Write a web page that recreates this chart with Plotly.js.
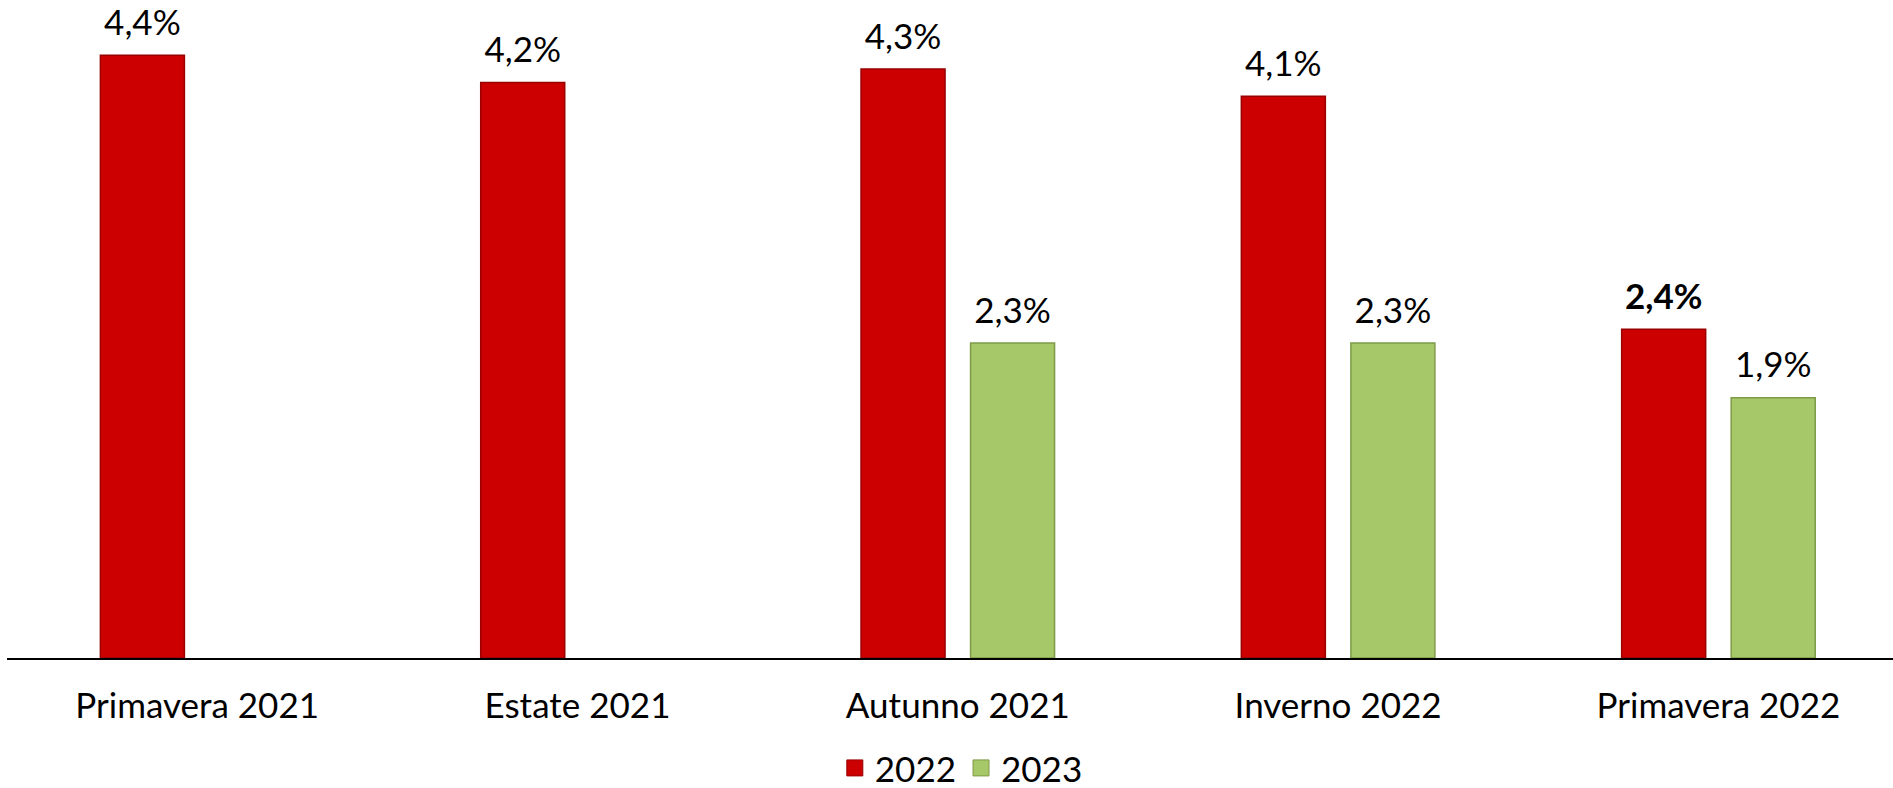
<!DOCTYPE html>
<html>
<head>
<meta charset="utf-8">
<script src="https://cdn.plot.ly/plotly-3.0.1.min.js"></script>
<style>html,body{margin:0;padding:0;background:#fff;}#chart{width:1893px;height:788px;}</style>
</head>
<body>
<div id="chart"></div>
<script>
const categories = ["Primavera 2021", "Estate 2021", "Autunno 2021", "Inverno 2022", "Primavera 2022"];
const seriesNames = ["2022", "2023"];
const values2022 = [4.4, 4.2, 4.3, 4.1, 2.4];
const values2023 = [null, null, 2.3, 2.3, 1.9];
const boldLabel2022 = [false, false, false, false, true];

const colors = ["#CC0000", "#A6C868"];
const lineColors = ["#9A0000", "#7E9A48"];

// symmetric lowered spacers lift the outside label a little above the bar
const SPACER = "<sub><span style='font-size:49px'>\u00a0</span></sub>";
function fmt(v, bold) {
  if (v == null) return "";
  const s = v.toFixed(1).replace(".", ",") + "%";
  return SPACER + (bold ? "<b>" + s + "</b>" : s) + SPACER;
}

const text2022 = values2022.map((v, i) => fmt(v, boldLabel2022[i]));
const text2023 = values2023.map(v => fmt(v, false));

const fontFam = "Lato, 'Open Sans', sans-serif";
const FS = 35;

const traces = [
  {
    type: "bar", name: seriesNames[0], x: categories, y: values2022, showlegend: false,
    text: text2022, textposition: "outside", cliponaxis: false, constraintext: "none",
    textfont: {family: fontFam, size: FS, color: "#000"},
    marker: {color: colors[0], line: {color: lineColors[0], width: 1.5}},
    hoverinfo: "none"
  },
  {
    type: "bar", name: seriesNames[1], x: categories, y: values2023, showlegend: false,
    text: text2023, textposition: "outside", cliponaxis: false, constraintext: "none",
    textfont: {family: fontFam, size: FS, color: "#000"},
    marker: {color: colors[1], line: {color: lineColors[1], width: 1.5}},
    hoverinfo: "none"
  },
  {
    type: "scatter", mode: "markers", name: seriesNames[0], x: [categories[0]], y: [null],
    marker: {symbol: "square", size: 16, color: colors[0], line: {color: lineColors[0], width: 1}},
    hoverinfo: "none"
  },
  {
    type: "scatter", mode: "markers", name: seriesNames[1], x: [categories[0]], y: [null],
    marker: {symbol: "square", size: 16, color: colors[1], line: {color: lineColors[1], width: 1}},
    hoverinfo: "none"
  }
];

const layout = {
  width: 1893, height: 788,
  margin: {l: 7, r: 0, t: 10, b: 130, pad: 0, autoexpand: false},
  paper_bgcolor: "#fff", plot_bgcolor: "#fff",
  barmode: "group", bargap: 0.424, bargroupgap: 0.233,
  showlegend: true,
  legend: {orientation: "h", x: 0.506, xanchor: "center", y: -0.17, yanchor: "middle",
           itemwidth: 30, tracegroupgap: 0,
           font: {family: fontFam, size: FS, color: "#000"}, traceorder: "normal"},
  xaxis: {type: "category", range: [-0.5, 4.459], showgrid: false, zeroline: false,
          showline: true, linecolor: "#000", linewidth: 1.5, ticks: "",
          ticklabelstandoff: 16,
          tickfont: {family: fontFam, size: FS, color: "#000"}, fixedrange: true},
  yaxis: {range: [0, 4.73], visible: false, showgrid: false, zeroline: false, fixedrange: true},
  font: {family: fontFam}
};

Plotly.newPlot("chart", traces, layout, {displayModeBar: false, staticPlot: true});
</script>
</body>
</html>
